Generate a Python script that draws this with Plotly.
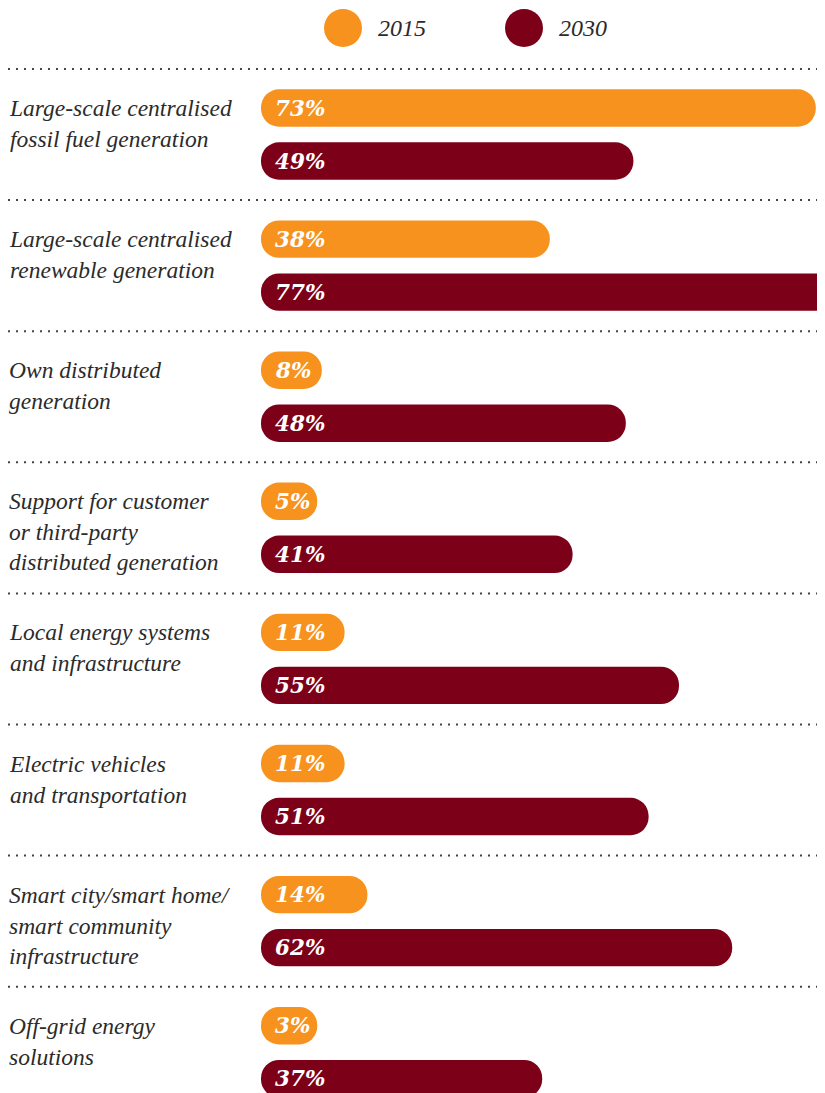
import plotly.graph_objects as go

# 数据
categories = [
    "Large-scale centralised<br>fossil fuel generation",
    "Large-scale centralised<br>renewable generation",
    "Own distributed<br>generation",
    "Support for customer<br>or third-party<br>distributed generation",
    "Local energy systems<br>and infrastructure",
    "Electric vehicles<br>and transportation",
    "Smart city/smart home/<br>smart community<br>infrastructure",
    "Off-grid energy<br>solutions",
]
share_2015 = [73, 38, 8, 5, 11, 11, 14, 3]
share_2030 = [49, 77, 48, 41, 55, 51, 62, 37]
years = ["2015", "2030"]

colors = {"2015": "#F7921E", "2030": "#7D0019"}
text_color = "#2b2b2b"

# 版式（像素，页面 body 有 8px 边距）
W, H = 825, 1085
PITCH = 131.1          # 每组高度
TOP = 61               # 第一条虚线位置
OFF = {"2015": 39 / PITCH, "2030": 92 / PITCH}
BAR_W = 37.4 / PITCH
X0_PX = 253            # 条形起点
PX_PER_PCT = 7.6
MIN_LEN = 7.4          # 最短条形，留出标签位置

fig = go.Figure()

for year, vals in zip(years, [share_2015, share_2030]):
    ys = [i + OFF[year] for i in range(len(categories))]
    lens = [max(v, MIN_LEN) for v in vals]
    # 设置 base 后两端都是圆角
    fig.add_trace(go.Bar(
        y=ys, x=lens, base=[0] * len(lens),
        orientation='h', width=BAR_W,
        marker=dict(color=colors[year], cornerradius="50%", line=dict(width=0)),
        hoverinfo='skip', showlegend=False
    ))
    for y, v in zip(ys, vals):
        fig.add_annotation(
            x=0, y=y, xref='x', yref='y', text=f"{v}%",
            xanchor='left', yanchor='middle', xshift=12, showarrow=False,
            font=dict(family="DejaVu Serif", size=21.5, color="white",
                      weight="bold", style="italic")
        )

# 类别标签和虚线
for i, label in enumerate(categories):
    fig.add_annotation(
        x=0, y=i + OFF["2015"], xref='paper', yref='y', text=label,
        xanchor='left', yanchor='top', align='left', xshift=-1, yshift=15,
        showarrow=False,
        font=dict(family="Liberation Serif", size=23.5, color=text_color, style="italic")
    )
    fig.add_shape(
        type='line', xref='paper', yref='y', x0=0, x1=1, y0=i, y1=i,
        line=dict(color="#444444", width=2, dash="2px,6px")
    )

# 图例
legend_x = {"2015": 335, "2030": 516}
for year in years:
    cx = legend_x[year] / W
    cy = 1 - 20 / H
    fig.add_shape(
        type='circle', xref='paper', yref='paper',
        xsizemode='pixel', ysizemode='pixel', xanchor=cx, yanchor=cy,
        x0=-19, x1=19, y0=-19, y1=19,
        fillcolor=colors[year], line=dict(width=0)
    )
    fig.add_annotation(
        x=cx, y=cy, xref='paper', yref='paper', text=year,
        xanchor='left', yanchor='middle', xshift=33, showarrow=False,
        font=dict(family="Liberation Serif", size=24, color=text_color, style="italic")
    )

fig.update_layout(
    width=W, height=H,
    margin=dict(l=0, r=0, t=0, b=0),
    paper_bgcolor='white', plot_bgcolor='white',
    barmode='overlay',
    xaxis=dict(domain=[X0_PX / W, 1], range=[0, (W - X0_PX) / PX_PER_PCT],
               visible=False, fixedrange=True),
    yaxis=dict(range=[(H - TOP) / PITCH, -TOP / PITCH],
               visible=False, fixedrange=True),
    showlegend=False
)

fig.write_html("out.html")
